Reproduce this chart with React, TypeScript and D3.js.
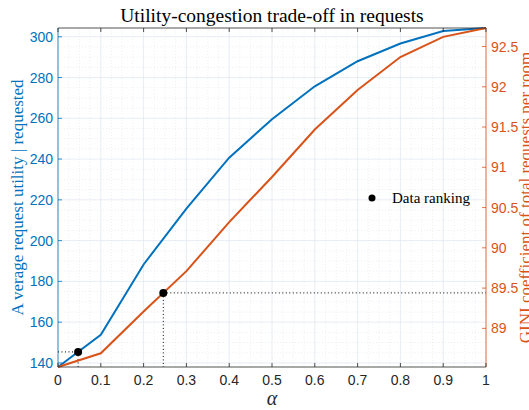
import * as d3 from "d3";
import { useEffect, useRef } from "react";

// values
const alphas = [0, 0.1, 0.2, 0.3, 0.4, 0.5, 0.6, 0.7, 0.8, 0.9, 1];
const utility = [138, 153.8, 188.3, 215.7, 240.7, 259.5, 275.7, 288, 296.7, 302.8, 304.3];
const gini = [88.52, 88.69, 89.21, 89.71, 90.32, 90.88, 91.47, 91.96, 92.37, 92.62, 92.73];

const xTicks = [0, 0.1, 0.2, 0.3, 0.4, 0.5, 0.6, 0.7, 0.8, 0.9, 1];
const leftTicks = [140, 160, 180, 200, 220, 240, 260, 280, 300];
const rightTicks = [89, 89.5, 90, 90.5, 91, 91.5, 92, 92.5];

// "data ranking" points
const rankUtility = { alpha: 0.047, value: 145.4 };
const rankGini = { alpha: 0.246, value: 89.44 };

const BLUE = "#0072BD";
const ORANGE = "#D95319";
const AXIS = "#262626";

const App = () => {
    const ref = useRef(null);

    const width = 529;
    const height = 410;
    const margin = { top: 28, bottom: 43, left: 58, right: 43 };
    const x0 = margin.left;
    const x1 = width - margin.right;
    const y0 = height - margin.bottom;
    const y1 = margin.top;

    useEffect(() => {
        const svg = d3.select(ref.current);
        svg.selectAll("*").remove();

        const x = d3.scaleLinear().domain([0, 1]).range([x0, x1]);
        const yL = d3.scaleLinear().domain([138, 304.3]).range([y0, y1]);
        const yR = d3.scaleLinear().domain([88.52, 92.73]).range([y0, y1]);

        const sans = "'Liberation Sans', Arial, sans-serif";
        const serif = "'Liberation Serif', 'Times New Roman', serif";

        // сетка: второстепенные линии
        const g = svg.append("g");
        const minorX = d3.range(0, 1.0001, 0.025).filter(v => Math.abs(v * 10 - Math.round(v * 10)) > 1e-6);
        const minorY = d3.range(140, 305, 5).filter(v => v % 20 !== 0);
        g.selectAll(".mx").data(minorX).enter().append("line")
            .attr("x1", d => x(d)).attr("x2", d => x(d)).attr("y1", y0).attr("y2", y1)
            .attr("stroke", "#dde6ee").attr("stroke-width", 0.6).attr("stroke-dasharray", "1,2");
        g.selectAll(".my").data(minorY).enter().append("line")
            .attr("x1", x0).attr("x2", x1).attr("y1", d => yL(d)).attr("y2", d => yL(d))
            .attr("stroke", "#dde6ee").attr("stroke-width", 0.6).attr("stroke-dasharray", "1,2");
        // основные линии
        g.selectAll(".gx").data(xTicks).enter().append("line")
            .attr("x1", d => x(d)).attr("x2", d => x(d)).attr("y1", y0).attr("y2", y1)
            .attr("stroke", "#e1e9f1").attr("stroke-width", 0.8);
        g.selectAll(".gy").data(leftTicks).enter().append("line")
            .attr("x1", x0).attr("x2", x1).attr("y1", d => yL(d)).attr("y2", d => yL(d))
            .attr("stroke", "#e1e9f1").attr("stroke-width", 0.8);

        // пунктирные направляющие к точкам
        const dot = "1,2.5";
        svg.append("line")
            .attr("x1", x0).attr("x2", x(rankUtility.alpha))
            .attr("y1", yL(rankUtility.value)).attr("y2", yL(rankUtility.value))
            .attr("stroke", "#000").attr("stroke-width", 1).attr("stroke-dasharray", dot);
        svg.append("line")
            .attr("x1", x(rankUtility.alpha)).attr("x2", x(rankUtility.alpha))
            .attr("y1", yL(rankUtility.value)).attr("y2", y0)
            .attr("stroke", "#000").attr("stroke-width", 1).attr("stroke-dasharray", dot);
        svg.append("line")
            .attr("x1", x(rankGini.alpha)).attr("x2", x1)
            .attr("y1", yR(rankGini.value)).attr("y2", yR(rankGini.value))
            .attr("stroke", "#000").attr("stroke-width", 1).attr("stroke-dasharray", dot);
        svg.append("line")
            .attr("x1", x(rankGini.alpha)).attr("x2", x(rankGini.alpha))
            .attr("y1", yR(rankGini.value)).attr("y2", y0)
            .attr("stroke", "#000").attr("stroke-width", 1).attr("stroke-dasharray", dot);

        // линии данных
        const lineL = d3.line<number>().x((_, i) => x(alphas[i])).y(d => yL(d));
        const lineR = d3.line<number>().x((_, i) => x(alphas[i])).y(d => yR(d));
        svg.append("path").datum(utility).attr("d", lineL)
            .attr("fill", "none").attr("stroke", BLUE).attr("stroke-width", 2);
        svg.append("path").datum(gini).attr("d", lineR)
            .attr("fill", "none").attr("stroke", ORANGE).attr("stroke-width", 2);

        svg.append("circle").attr("cx", x(rankUtility.alpha)).attr("cy", yL(rankUtility.value)).attr("r", 4).attr("fill", "#000");
        svg.append("circle").attr("cx", x(rankGini.alpha)).attr("cy", yR(rankGini.value)).attr("r", 4).attr("fill", "#000");

        // рамка осей
        svg.append("line").attr("x1", x0).attr("x2", x1).attr("y1", y0).attr("y2", y0).attr("stroke", AXIS).attr("stroke-width", 0.8);
        svg.append("line").attr("x1", x0).attr("x2", x1).attr("y1", y1).attr("y2", y1).attr("stroke", AXIS).attr("stroke-width", 0.8);
        svg.append("line").attr("x1", x0).attr("x2", x0).attr("y1", y0).attr("y2", y1).attr("stroke", BLUE).attr("stroke-width", 0.8);
        svg.append("line").attr("x1", x1).attr("x2", x1).attr("y1", y0).attr("y2", y1).attr("stroke", ORANGE).attr("stroke-width", 0.8);

        // деления по X (снизу и сверху, внутрь)
        xTicks.forEach(t => {
            svg.append("line").attr("x1", x(t)).attr("x2", x(t)).attr("y1", y0).attr("y2", y0 - 4).attr("stroke", AXIS).attr("stroke-width", 0.8);
            svg.append("line").attr("x1", x(t)).attr("x2", x(t)).attr("y1", y1).attr("y2", y1 + 4).attr("stroke", AXIS).attr("stroke-width", 0.8);
            svg.append("text").attr("x", x(t)).attr("y", y0 + 18).attr("text-anchor", "middle")
                .attr("font-family", sans).attr("font-size", 14).attr("fill", AXIS).text(d3.format("~g")(t));
        });
        leftTicks.forEach(t => {
            svg.append("line").attr("x1", x0).attr("x2", x0 + 4).attr("y1", yL(t)).attr("y2", yL(t)).attr("stroke", BLUE).attr("stroke-width", 0.8);
            svg.append("text").attr("x", x0 - 5).attr("y", yL(t) + 5).attr("text-anchor", "end")
                .attr("font-family", sans).attr("font-size", 14).attr("fill", BLUE).text(t);
        });
        rightTicks.forEach(t => {
            svg.append("line").attr("x1", x1).attr("x2", x1 - 4).attr("y1", yR(t)).attr("y2", yR(t)).attr("stroke", ORANGE).attr("stroke-width", 0.8);
            svg.append("text").attr("x", x1 + 5).attr("y", yR(t) + 5).attr("text-anchor", "start")
                .attr("font-family", sans).attr("font-size", 14).attr("fill", ORANGE).text(t);
        });

        // заголовки
        const midY = (y0 + y1) / 2;
        svg.append("text").attr("x", (x0 + x1) / 2).attr("y", 22).attr("text-anchor", "middle")
            .attr("font-family", serif).attr("font-size", 19.5).attr("fill", "#000")
            .text("Utility-congestion trade-off in requests");
        svg.append("text").attr("x", (x0 + x1) / 2).attr("y", 405).attr("text-anchor", "middle")
            .attr("font-family", serif).attr("font-style", "italic").attr("font-size", 20).attr("fill", AXIS)
            .text("α");
        svg.append("text").attr("transform", `translate(23,${midY}) rotate(-90)`).attr("text-anchor", "middle")
            .attr("font-family", serif).attr("font-size", 17).attr("fill", BLUE)
            .text("A verage request utility | requested");
        svg.append("text").attr("transform", `translate(531,${midY}) rotate(-90)`).attr("text-anchor", "middle")
            .attr("font-family", serif).attr("font-size", 17).attr("fill", ORANGE)
            .text("GINI coefficient of total requests per room");

        // легенда
        svg.append("circle").attr("cx", 372).attr("cy", 198).attr("r", 3.5).attr("fill", "#000");
        svg.append("text").attr("x", 392).attr("y", 203)
            .attr("font-family", serif).attr("font-size", 15).attr("fill", "#000").text("Data ranking");
    }, []);

    return (
        <svg ref={ref} width={width} height={height}
            style={{ position: "absolute", left: 0, top: 0, background: "#fff" }}></svg>
    );
};

export default App;
